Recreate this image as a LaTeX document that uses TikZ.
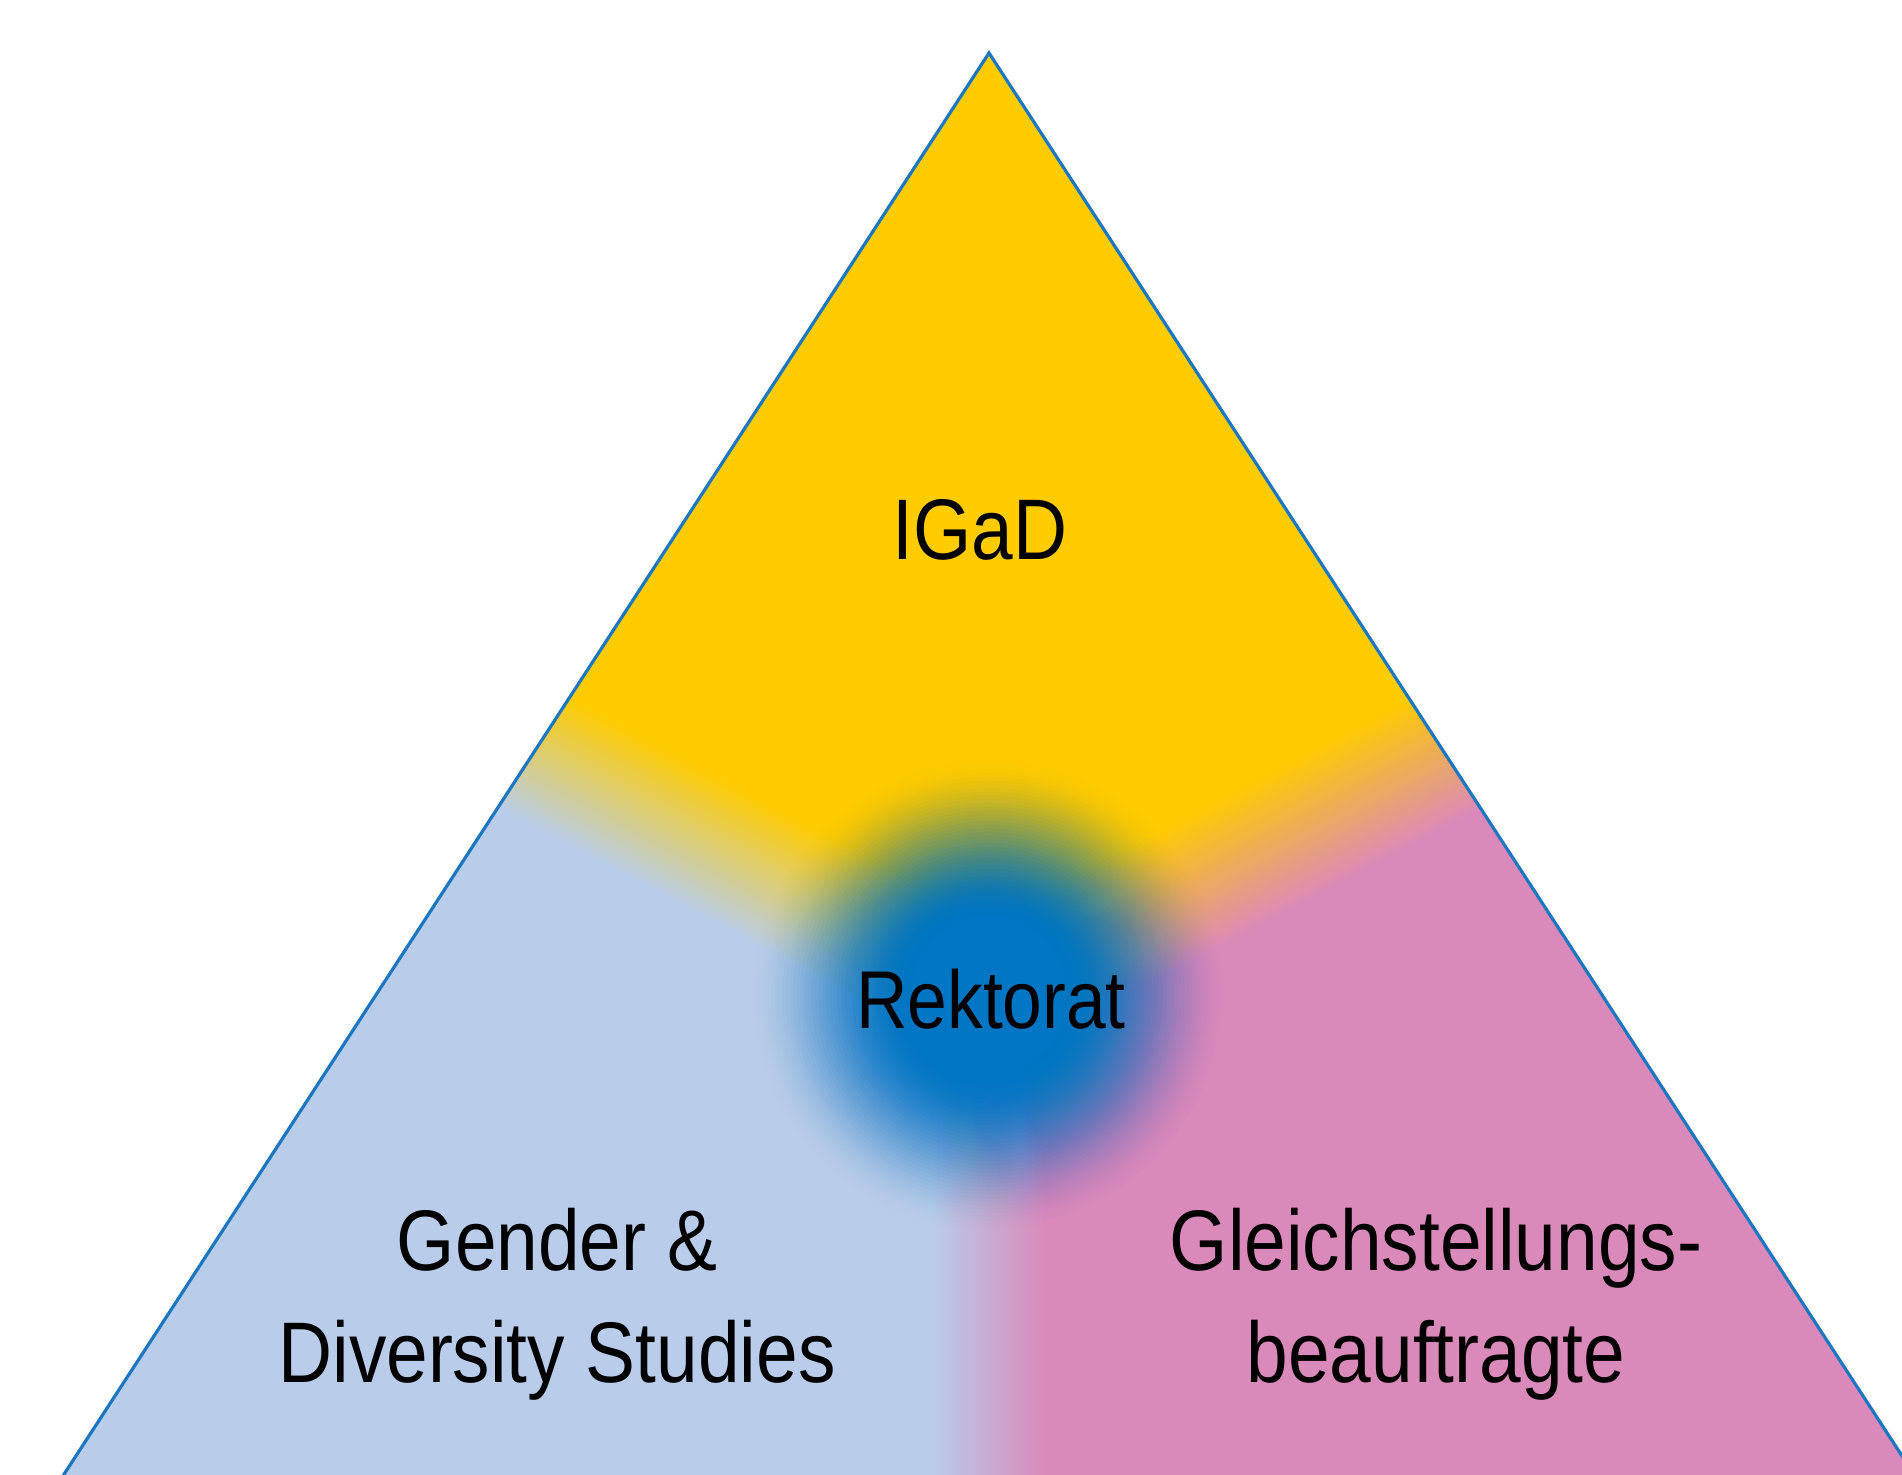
\documentclass[tikz,border=0pt]{standalone}
\usepackage{graphicx}
\usepackage{fontspec}
\setmainfont{Liberation Sans}
\definecolor{cyellow}{RGB}{255,204,0}
\definecolor{clblue}{RGB}{185,205,235}
\definecolor{cpink}{RGB}{218,138,186}
\definecolor{ccore}{RGB}{0,118,196}
\definecolor{cedge}{RGB}{28,118,192}
\tikzset{
  lbl/.style={anchor=base, inner sep=0pt, font=\fontsize{43}{56}\selectfont},
  rimline/.style={draw=cedge, line width=1.6pt, line join=miter},
}
\newcommand{\cond}[1]{\scalebox{0.87}[1]{#1}}
\newcommand{\twolines}[2]{\scalebox{0.87}[1]{\begin{tabular}[t]{@{}c@{}}#1\\#2\end{tabular}}}
% band: angle, halfwidth, length, colour on negative side, colour on positive side
\newcommand{\blendband}[5]{%
  \begin{scope}[shift={(989,480)}, rotate=#1]
    \foreach \i in {0,...,39}{%
      \pgfmathsetmacro{\tlo}{-#2 + 2*#2*\i/40}%
      \pgfmathsetmacro{\thi}{min(-#2 + 2*#2*(\i+1)/40 + 1.5, #2)}%
      \pgfmathsetmacro{\pp}{100*(39-\i)/39}%
      \fill[#4!\pp!#5] (0,\tlo) rectangle (#3,\thi);
    }
  \end{scope}}
\begin{document}
\begin{tikzpicture}[x=0.5pt,y=0.5pt]
\useasboundingbox (0,0) rectangle (1902,1475);
\clip (0,0) rectangle (1902,1475);
\coordinate (apex) at (989,1422);
\coordinate (bl) at (31,-50);
\coordinate (br) at (1947,-50);
\coordinate (mid) at (989,480);
\begin{scope}
  \clip (bl) -- (apex) -- (br) -- cycle;
  \fill[cyellow] (bl) -- (apex) -- (br) -- cycle;
  \begin{scope}[shift={(989,480)}]
    \fill[clblue] (0,0) -- (152:1500) -- (-1500,-1500) -- (0,-1500) -- cycle;
    \fill[cpink] (0,0) -- (0,-1500) -- (1500,-1500) -- (28:1500) -- cycle;
  \end{scope}
  \blendband{270}{58}{700}{clblue}{cpink}
  \blendband{152}{68}{800}{cyellow}{clblue}
  \blendband{28}{68}{800}{cpink}{cyellow}
  % soft blue disc: nested circles, smoothstep opacity profile from r=240 to r=75
  \foreach \k in {1,...,45}{%
    \pgfmathsetmacro{\sa}{(\k-1)/45}%
    \pgfmathsetmacro{\sb}{\k/45}%
    \pgfmathsetmacro{\Ta}{1-\sa*\sa*(3-2*\sa)}%
    \pgfmathsetmacro{\Tb}{1-\sb*\sb*(3-2*\sb)}%
    \pgfmathsetmacro{\aop}{1-\Tb/\Ta}%
    \pgfmathsetmacro{\rr}{240-165*(\k-1)/45}%
    \fill[ccore, fill opacity=\aop] (mid) circle (\rr);
  }
\end{scope}
\draw[rimline] (bl) -- (apex) -- (br);
\node[lbl] (igad) at (980,915) {\cond{IGaD}};
\node[lbl, font=\fontsize{41}{50}\selectfont] (rektorat) at (991,446) {\cond{Rektorat}};
\node[lbl] (gds) at (557,204) {\twolines{Gender \&}{Diversity Studies}};
\node[lbl] (gsb) at (1436,204) {\twolines{Gleichstellungs-}{beauftragte}};
\end{tikzpicture}
\end{document}
